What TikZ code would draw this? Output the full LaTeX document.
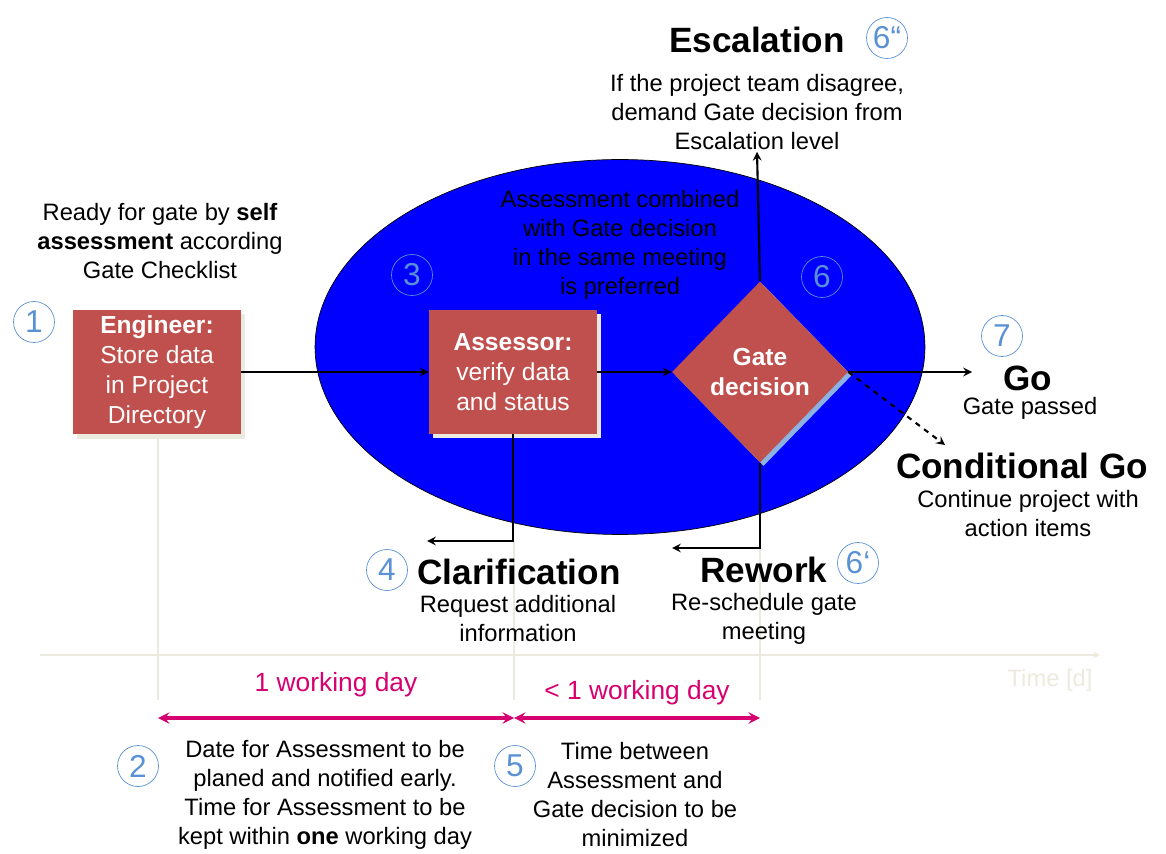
\documentclass[tikz,border=0pt]{standalone}
\usepackage{fontspec}
\setmainfont{Liberation Sans}
\usepackage{tikz}
\usetikzlibrary{arrows,positioning,calc,shapes,shadows}

\definecolor{boxred}{RGB}{192,80,77}
\definecolor{meetblue}{RGB}{0,0,255}
\definecolor{numblue}{RGB}{90,145,212}
\definecolor{daypink}{RGB}{214,0,112}
\definecolor{pale}{RGB}{236,234,222}

\begin{document}
\begin{tikzpicture}[x=0.02cm, y=-0.02cm,
    box/.style={rectangle, fill=boxred, text=white, minimum width=3.36cm, minimum height=2.48cm, align=center, font=\fontsize{14}{17}\selectfont,
        general shadow={fill=pale, shadow xshift=2.5pt, shadow yshift=-2.5pt}},
    gatebox/.style={diamond, fill=boxred, text=white, minimum width=3.52cm, minimum height=3.62cm, inner sep=0pt, align=center, font=\fontsize{14}{17}\selectfont\bfseries,
        general shadow={fill=numblue!70!white, shadow xshift=2pt, shadow yshift=-2pt}},
    num/.style={circle, draw=numblue, text=numblue, thin, minimum size=0.82cm, inner sep=0pt, font=\fontsize{18}{18}\selectfont},
    head/.style={inner sep=1pt, font=\fontsize{20}{22}\selectfont\bfseries},
    note/.style={inner sep=1pt, align=center, font=\fontsize{13.5}{16.5}\selectfont},
    arrow/.style={->, >=stealth, line width=1.2pt},
    guide/.style={pale, line width=0.8pt},
    span/.style={<->, >=stealth, daypink, line width=1.8pt}
]
\useasboundingbox (0,0) rectangle (1166,854);

% Time axis and guides
\draw[guide, ->, >=stealth] (40,655) coordinate (t0) -- (1100,655) coordinate (t1);
\node[note, text=pale] (time) at (1050,680) {Time [d]};
\draw[guide] (158,434) -- (158,700);
\draw[guide] (514,541) -- (514,700);
\draw[guide] (760,548) -- (760,700);

% Meeting
\node[ellipse, fill=meetblue, draw=black, minimum width=12.2cm, minimum height=7.5cm] (meet) at (620,347) {};
\node[note] (comb) at (620,245) {Assessment combined\\with Gate decision\\in the same meeting\\is preferred};

% Steps
\node[box] (eng) at (157,372) {\textbf{Engineer:}\\Store data\\in Project\\Directory};
\node[box] (ass) at (513,372) {\textbf{Assessor:}\\verify data\\and status};
\node[gatebox] (gate) at (760,372) {Gate\\decision};

% Texts
\node[note] (ready) at (160,241) {Ready for gate by \textbf{self}\\\textbf{assessment} according\\Gate Checklist};
\node[head] (esc) at (757,40) {Escalation};
\node[note] (escdesc) at (757,112) {If the project team disagree,\\demand Gate decision from\\Escalation level};
\node[head] (go) at (1028,378) {Go};
\node[note] (godesc) at (1030,408) {Gate passed};
\node[head] (cond) at (1022,466) {Conditional Go};
\node[note] (conddesc) at (1028,514) {Continue project with\\action items};
\node[head] (clar) at (519,572) {Clarification};
\node[note] (clardesc) at (518,619) {Request additional\\information};
\node[head] (rwk) at (764,570) {Rework};
\node[note] (rwkdesc) at (764,619) {Re-schedule gate\\meeting};

% Numbers
\node[num] (n1) at (34,322) {1};
\node[num] (n2) at (138,766) {2};
\node[num] (n3) at (412,275) {3};
\node[num] (n4) at (387,570) {4};
\node[num] (n5) at (515,766) {5};
\node[num] (n6) at (822,277) {6};
\node[num] (n6a) at (858,563) {6‘};
\node[num] (n6b) at (887,38) {6“};
\node[num] (n7) at (1002,336) {7};

% Arrows
\coordinate (goend) at (972,372);
\coordinate (condend) at (945,445);
\coordinate (clarend) at (427,541);
\coordinate (rwkend) at (672,548);
\draw[arrow] (eng.east) -- (ass.west);
\draw[arrow] (ass.east) -- (gate.west);
\draw[arrow] (gate.east) -- (goend);
\draw[arrow, dashed] (gate.east) -- (condend);
\draw[arrow] (gate.north) -- (escdesc.south);
\draw[arrow] (ass.south) |- (clarend);
\draw[arrow] (gate.south) |- (rwkend);

% Durations
\coordinate (d1) at (158,718);
\coordinate (d2) at (514,718);
\coordinate (d3) at (760,718);
\draw[span] (d1) -- (d2) node[midway, above=8pt, font=\fontsize{15}{17}\selectfont] {1 working day};
\draw[span] (d2) -- (d3) node[midway, above=3pt, font=\fontsize{15}{17}\selectfont] {< 1 working day};
\node[note] (desc2) at (325,795) {Date for Assessment to be\\planed and notified early.\\Time for Assessment to be\\kept within \textbf{one} working day};
\node[note] (desc5) at (635,795) {Time between\\Assessment and\\Gate decision to be\\minimized};
\end{tikzpicture}
\end{document}
